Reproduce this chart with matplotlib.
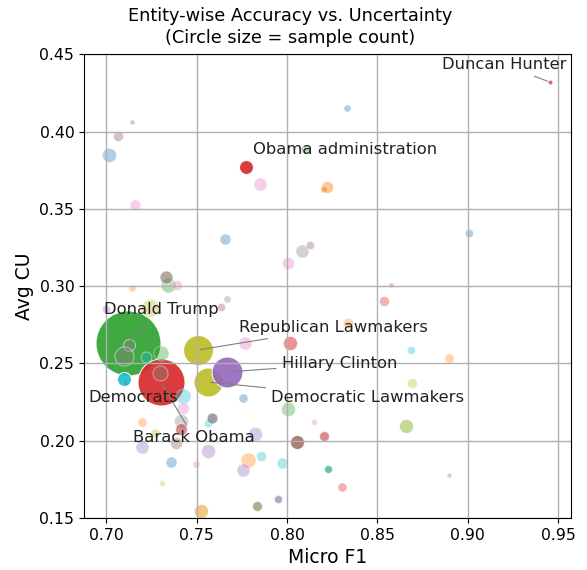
import matplotlib
matplotlib.use("Agg")
import matplotlib.pyplot as plt

# labelled entities
names = ["Donald Trump", "Barack Obama", "Republican Lawmakers", "Democratic Lawmakers",
         "Hillary Clinton", "Democrats", "Obama administration", "Duncan Hunter"]
lab_f1 = [0.7117, 0.7300, 0.7506, 0.7561, 0.7667, 0.7096, 0.7772, 0.9456]
lab_cu = [0.2633, 0.2380, 0.2587, 0.2380, 0.2445, 0.2400, 0.3770, 0.4320]
lab_n = [1095, 573, 233, 218, 249, 51, 51, 6]

# other entities
f1 = [0.7139, 0.7067, 0.7017, 0.8333, 0.8100, 0.7850, 0.8222, 0.8206, 0.7161, 0.7659,
      0.8083, 0.8128, 0.8006, 0.9006, 0.7341, 0.7332, 0.7393, 0.7141, 0.7244, 0.6998,
      0.7633, 0.7668, 0.7767, 0.7124, 0.7096, 0.7221, 0.7304, 0.7294, 0.8576, 0.8535,
      0.8337, 0.8689, 0.8896, 0.8694, 0.8017, 0.7757, 0.8004, 0.8656, 0.8304, 0.8896,
      0.8152, 0.8202, 0.8054, 0.7822, 0.7856, 0.7785, 0.7974, 0.7757, 0.8226, 0.7952,
      0.7835, 0.7424, 0.7424, 0.7563, 0.7585, 0.7411, 0.7197, 0.7269, 0.7196, 0.7383,
      0.7563, 0.7359, 0.7498, 0.7308, 0.7526, 0.7415]
cu = [0.4062, 0.3970, 0.3848, 0.4150, 0.3890, 0.3660, 0.3640, 0.3628, 0.3524, 0.3303,
      0.3227, 0.3266, 0.3150, 0.3343, 0.3008, 0.3061, 0.3008, 0.2990, 0.2857, 0.2853,
      0.2863, 0.2915, 0.2631, 0.2620, 0.2548, 0.2544, 0.2570, 0.2437, 0.3007, 0.2906,
      0.2760, 0.2587, 0.2533, 0.2372, 0.2634, 0.2279, 0.2205, 0.2095, 0.1700, 0.1781,
      0.2124, 0.2033, 0.1994, 0.2044, 0.1902, 0.1876, 0.1854, 0.1810, 0.1817, 0.1622,
      0.1580, 0.2289, 0.2210, 0.2117, 0.2145, 0.2130, 0.2123, 0.2050, 0.1962, 0.1988,
      0.1934, 0.1865, 0.1848, 0.1724, 0.1546, 0.2074]
n = [6, 26, 51, 13, 21, 44, 37, 13, 31, 31,
     44, 17, 37, 17, 58, 44, 26, 13, 84, 17,
     17, 13, 44, 37, 94, 31, 58, 58, 6, 26,
     26, 17, 21, 26, 51, 21, 51, 51, 21, 6,
     9, 26, 51, 51, 26, 58, 31, 44, 17, 17,
     26, 58, 37, 17, 31, 51, 21, 21, 44, 37,
     51, 31, 13, 9, 51, 37]

lab_colors = [("tab:green", 0.9), ("tab:red", 0.9), ("tab:olive", 0.9), ("tab:olive", 0.9),
              ("tab:purple", 0.9), ("tab:cyan", 0.9), ("tab:red", 0.9), ("tab:red", 0.7)]
colors = [("tab:blue", .35), ("tab:brown", .35), ("tab:blue", .35), ("tab:blue", .35),
          ("tab:green", .35), ("tab:pink", .35), ("tab:orange", .45), ("tab:orange", .45),
          ("tab:pink", .35), ("tab:blue", .35), ("tab:gray", .35), ("tab:brown", .35),
          ("tab:pink", .35), ("tab:blue", .35), ("tab:green", .35), ("#7f6f60", .6),
          ("tab:pink", .35), ("tab:orange", .35), ("tab:olive", .35), ("tab:purple", .35),
          ("tab:brown", .35), ("tab:gray", .35), ("tab:pink", .35), ("tab:gray", .5),
          ("tab:gray", .45), ("tab:cyan", .4), ("tab:green", .35), ("tab:gray", .4),
          ("tab:red", .35), ("tab:red", .35), ("tab:orange", .35), ("tab:cyan", .35),
          ("tab:orange", .35), ("tab:olive", .35), ("tab:red", .5), ("tab:blue", .35),
          ("tab:green", .35), ("#8fbc3f", .55), ("tab:red", .35), ("tab:purple", .35),
          ("tab:pink", .35), ("#c04040", .6), ("tab:brown", .75), ("tab:purple", .35),
          ("tab:cyan", .35), ("tab:orange", .35), ("tab:cyan", .35), ("tab:purple", .35),
          ("#20a070", .65), ("#5a5a80", .5), ("#7a7a40", .6), ("tab:cyan", .35),
          ("tab:pink", .35), ("tab:cyan", .35), ("#606070", .6), ("tab:gray", .35),
          ("tab:orange", .35), ("tab:olive", .35), ("tab:purple", .35), ("tab:brown", .35),
          ("tab:purple", .35), ("tab:blue", .35), ("tab:pink", .35), ("tab:olive", .35),
          ("#e0a020", .55), ("#c04040", .6)]

# where the labels ended up
text_pos = {
    "Donald Trump": (0.7303, 0.2846),
    "Barack Obama": (0.7485, 0.2020),
    "Republican Lawmakers": (0.8258, 0.2730),
    "Democratic Lawmakers": (0.8446, 0.2277),
    "Hillary Clinton": (0.8289, 0.2497),
    "Democrats": (0.7149, 0.2277),
    "Obama administration": (0.8321, 0.3886),
    "Duncan Hunter": (0.9204, 0.4431),
}

fig = plt.figure(figsize=(5.87, 5.70), dpi=100)
ax = fig.add_axes([0.1431, 0.0912, 0.9727 - 0.1431, 0.9047 - 0.0912])

k = 2.0  # marker area per sample
for i in range(5):
    c, a = lab_colors[i]
    ax.scatter(lab_f1[i], lab_cu[i], s=lab_n[i] * k, color=c, alpha=a,
               edgecolors="white", linewidths=0.8)
for i in range(len(f1)):
    c, a = colors[i]
    ax.scatter(f1[i], cu[i], s=n[i] * k, color=c, alpha=a,
               edgecolors="white", linewidths=0.8)
for i in range(5, len(names)):
    c, a = lab_colors[i]
    ax.scatter(lab_f1[i], lab_cu[i], s=lab_n[i] * k, color=c, alpha=a,
               edgecolors="white", linewidths=0.8)

for i, name in enumerate(names):
    tx, ty = text_pos[name]
    if name == "Obama administration":
        ax.text(tx, ty, name, ha="center", va="center", fontsize=11.8, color="#222222")
    else:
        ax.annotate(name, xy=(lab_f1[i], lab_cu[i]), xytext=(tx, ty),
                    ha="center", va="center", fontsize=11.8, color="#222222",
                    arrowprops=dict(arrowstyle="-", color="gray", lw=0.8))

ax.set_xlim(0.6876, 0.9572)
ax.set_ylim(0.15, 0.45)
ax.set_xticks([0.70, 0.75, 0.80, 0.85, 0.90, 0.95])
ax.grid(True, color="#b0b0b0", lw=1)
ax.tick_params(labelsize=11.3)
ax.set_xlabel("Micro F1", fontsize=13.5)
ax.set_ylabel("Avg CU", fontsize=13.5)
fig.suptitle("Entity-wise Accuracy vs. Uncertainty\n(Circle size = sample count)",
             x=0.494, y=0.988, va="top", fontsize=12.8, linespacing=1.3)

fig.savefig("out.png", dpi=100)
